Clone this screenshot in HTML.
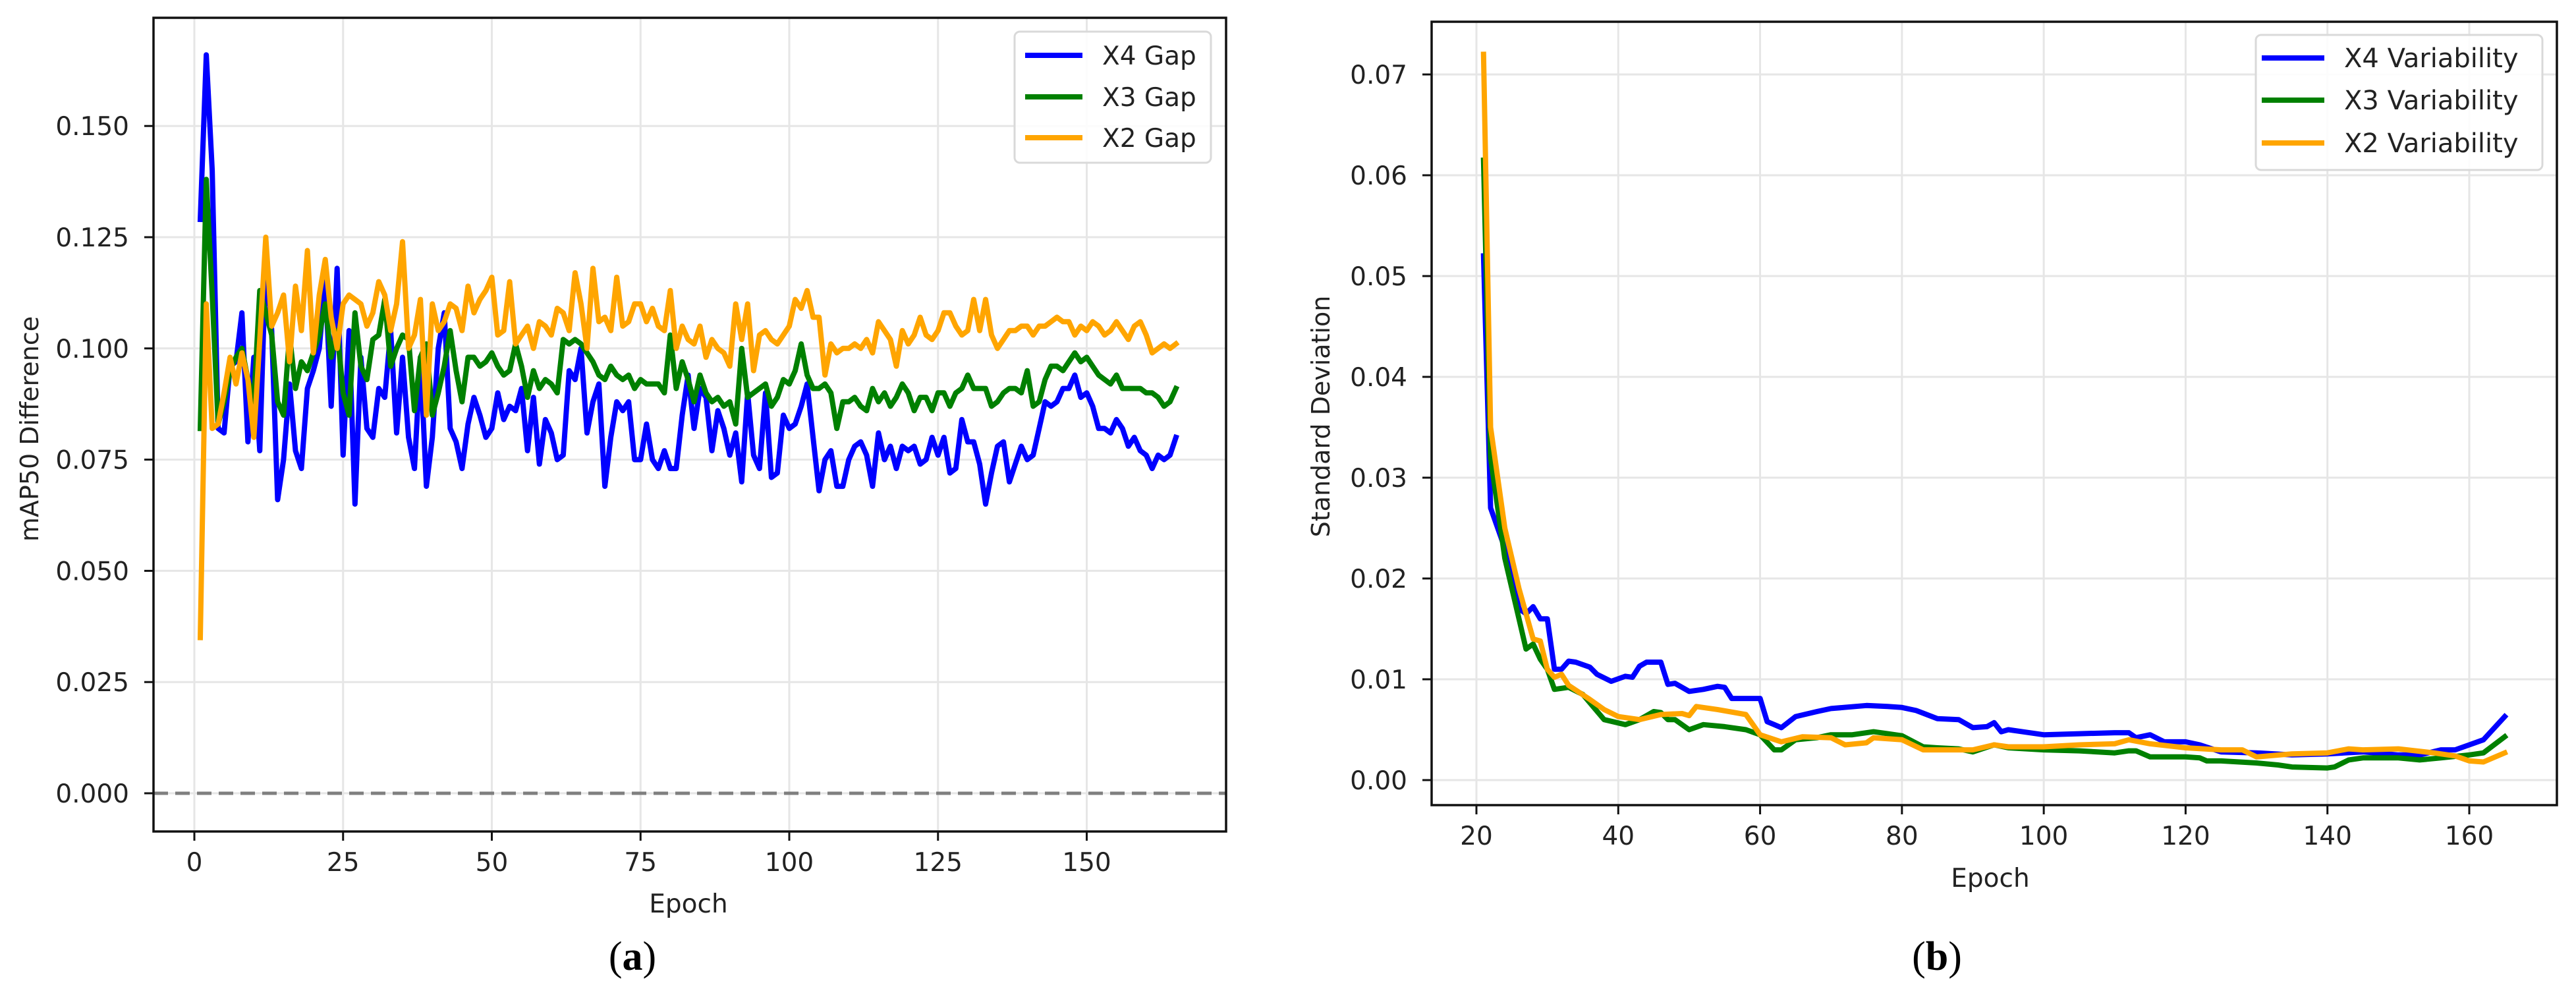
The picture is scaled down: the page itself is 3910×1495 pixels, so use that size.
<!DOCTYPE html>
<html><head><meta charset="utf-8"><style>
html,body{margin:0;padding:0;background:#fff;}
svg{display:block;font-family:"DejaVu Sans","Liberation Sans",sans-serif;}
</style></head><body>
<svg id="fig" width="3910" height="1495" viewBox="0 0 3910 1495" xmlns="http://www.w3.org/2000/svg"></svg>
<script>
// ---- Chart (a) data ----
const gapEpochs = Array.from({length:165},(_, i)=>i+1);
const x4Gap = [.129,.166,.140,.082,.081,.096,.097,.108,.079,.098,
.077,.120,.104,.066,.075,.092,.077,.073,.091,.095,
.100,.115,.087,.118,.076,.104,.065,.098,.082,.080,
.091,.089,.104,.081,.098,.080,.073,.098,.069,.080,
.100,.108,.082,.079,.073,.083,.089,.085,.080,.082,
.090,.084,.087,.086,.091,.077,.089,.074,.084,.081,
.075,.076,.095,.093,.100,.081,.088,.092,.069,.080,
.088,.086,.088,.075,.075,.083,.075,.073,.077,.073,
.073,.085,.094,.082,.091,.089,.077,.086,.082,.076,
.081,.070,.090,.076,.073,.090,.071,.072,.085,.082,
.083,.087,.092,.080,.068,.075,.077,.069,.069,.075,
.078,.079,.076,.069,.081,.075,.078,.073,.078,.077,
.078,.074,.075,.080,.076,.080,.072,.073,.084,.079,
.079,.074,.065,.072,.078,.079,.070,.074,.078,.075,
.076,.082,.088,.087,.088,.091,.091,.094,.089,.090,
.087,.082,.082,.081,.084,.082,.078,.080,.077,.076,
.073,.076,.075,.076,.080];
const x3Gap = [.082,.138,.112,.083,.088,.095,.098,.100,.093,.088,
.113,.108,.103,.088,.085,.103,.091,.097,.095,.099,
.103,.110,.098,.104,.090,.085,.108,.096,.093,.102,
.103,.111,.096,.100,.103,.102,.086,.098,.101,.085,
.090,.096,.104,.095,.088,.098,.098,.096,.097,.099,
.096,.094,.095,.101,.096,.089,.095,.091,.093,.092,
.090,.102,.101,.102,.101,.099,.097,.094,.093,.096,
.094,.093,.094,.091,.093,.092,.092,.092,.090,.103,
.091,.097,.093,.088,.094,.090,.088,.089,.087,.088,
.083,.100,.089,.090,.091,.092,.087,.089,.093,.092,
.095,.101,.094,.091,.091,.092,.090,.082,.088,.088,
.089,.087,.086,.091,.088,.090,.087,.089,.092,.090,
.086,.089,.089,.086,.090,.090,.087,.090,.091,.094,
.091,.091,.091,.087,.088,.090,.091,.091,.090,.095,
.087,.088,.093,.096,.096,.095,.097,.099,.097,.098,
.096,.094,.093,.092,.094,.091,.091,.091,.091,.090,
.090,.089,.087,.088,.091];
const x2Gap = [.035,.110,.082,.083,.090,.098,.092,.099,.093,.080,
.102,.125,.105,.108,.112,.097,.114,.104,.122,.099,
.112,.120,.107,.100,.110,.112,.111,.110,.105,.108,
.115,.112,.104,.110,.124,.100,.103,.111,.085,.110,
.104,.106,.110,.109,.104,.114,.108,.111,.113,.116,
.103,.104,.115,.101,.103,.105,.100,.106,.105,.103,
.109,.108,.104,.117,.110,.100,.118,.106,.107,.104,
.116,.105,.106,.110,.110,.106,.109,.105,.104,.113,
.100,.105,.102,.101,.105,.098,.102,.100,.099,.096,
.110,.102,.110,.095,.103,.104,.102,.101,.103,.105,
.111,.109,.113,.107,.107,.094,.101,.099,.100,.100,
.101,.100,.102,.099,.106,.104,.102,.096,.104,.101,
.103,.107,.103,.102,.104,.108,.108,.105,.103,.104,
.111,.104,.111,.103,.100,.102,.104,.104,.105,.105,
.103,.105,.105,.106,.107,.106,.106,.103,.105,.104,
.106,.105,.103,.104,.106,.104,.102,.105,.106,.103,
.099,.100,.101,.100,.101];
const aXTicks = [0,25,50,75,100,125,150];
const aYTicks = [0,0.025,0.05,0.075,0.1,0.125,0.15];
const aYLabels = ["0.000","0.025","0.050","0.075","0.100","0.125","0.150"];

// ---- Chart (b) data ----
const x4VarEpochs = [21,22,24,26,27,28,29,30,31,32,33,34,36,37,39,41,42,43,44,46,47,48,50,52,54,55,56,60,61,62,63,65,68,70,75,78,80,82,85,88,90,92,93,94,95,97,100,105,110,112,113,115,117,120,122,125,130,135,140,145,150,153,156,158,160,162,165];
const x4Var = [.052,.027,.023,.017,.0165,.0172,.016,.016,.011,.011,.0118,.0117,.0112,.0105,.0098,.0103,.0102,.0113,.0117,.0117,.0095,.0096,.0088,.009,.0093,.0092,.0081,.0081,.0058,.0055,.0052,.0063,.0068,.0071,.0074,.0073,.0072,.0069,.0061,.006,.0052,.0053,.0057,.0048,.005,.0048,.0045,.0046,.0047,.0047,.0042,.0045,.0038,.0038,.0035,.0028,.0027,.0025,.0026,.0028,.0025,.0025,.003,.003,.0035,.004,.0063];
const x3VarEpochs = [21,22,24,26,27,28,29,30,31,33,35,38,41,43,45,46,47,48,50,52,55,58,60,62,63,65,68,70,73,76,78,80,83,85,88,90,93,95,100,105,110,112,113,115,120,122,123,125,130,133,135,140,141,143,145,150,153,156,160,162,165];
const x3Var = [.0615,.032,.022,.016,.013,.0135,.012,.011,.009,.0092,.0085,.006,.0055,.006,.0068,.0067,.006,.006,.005,.0055,.0053,.005,.0045,.003,.003,.004,.0042,.0045,.0045,.0048,.0046,.0044,.0033,.0032,.0031,.0028,.0035,.0032,.003,.0029,.0027,.0029,.0029,.0023,.0023,.0022,.0019,.0019,.0017,.0015,.0013,.0012,.0013,.002,.0022,.0022,.002,.0022,.0025,.0027,.0043];
const x2VarEpochs = [21,22,24,26,28,29,30,31,32,33,36,38,40,43,46,49,50,51,54,58,60,63,66,70,72,75,76,80,83,85,90,93,95,100,105,110,112,115,120,125,128,130,135,140,143,145,150,155,158,160,162,165];
const x2Var = [.072,.035,.025,.019,.014,.0138,.011,.0102,.0105,.0094,.008,.007,.0063,.006,.0065,.0066,.0064,.0073,.007,.0065,.0045,.0038,.0043,.0042,.0035,.0037,.0042,.004,.003,.003,.003,.0035,.0033,.0033,.0035,.0036,.004,.0036,.0032,.003,.003,.0023,.0026,.0027,.0031,.003,.0031,.0027,.0024,.0019,.0018,.0027];
const bXTicks = [20,40,60,80,100,120,140,160];
const bYTicks = [0,0.01,0.02,0.03,0.04,0.05,0.06,0.07];
const bYLabels = ["0.00","0.01","0.02","0.03","0.04","0.05","0.06","0.07"];

const NS = "http://www.w3.org/2000/svg";
const svg = document.getElementById('fig');
function mk(tag, attrs, parent){
  const e = document.createElementNS(NS, tag);
  for (const k in attrs) e.setAttribute(k, attrs[k]);
  (parent||svg).appendChild(e);
  return e;
}

function drawChart(cfg){
  const g = mk('g', {});
  
  
  const X = v => cfg.x0 + (v - cfg.xv0) * cfg.xs;
  const Y = v => cfg.y0 - v * cfg.ys;
  cfg.xTicks.forEach(t=>{
    const l = mk('line',{x1:X(t),x2:X(t),y1:cfg.top,y2:cfg.bottom,stroke:'#e6e6e6','stroke-width':3},g);
    
    
  });
  cfg.yTicks.forEach(t=>{
    const l = mk('line',{x1:cfg.left,x2:cfg.right,y1:Y(t),y2:Y(t),stroke:'#e6e6e6','stroke-width':3},g);
    
    
  });
  if (cfg.zeroLine){
    const z = mk('line',{x1:cfg.left,x2:cfg.right,y1:Y(0),y2:Y(0),stroke:'#7f7f7f','stroke-width':5,'stroke-dasharray':'22 11'},g);
    
    
  }
  cfg.series.forEach(s=>{
    const pts = s.xs.map((x,i)=>X(x).toFixed(1)+','+Y(s.ys[i]).toFixed(1)).join(' ');
    const p = mk('polyline',{points:pts,fill:'none',stroke:s.color,'stroke-width':cfg.lw,'stroke-linejoin':'round','stroke-linecap':'square'},g);
    
    
  });
  const f = mk('rect',{x:cfg.left,y:cfg.top,width:cfg.right-cfg.left,height:cfg.bottom-cfg.top,fill:'none',stroke:'#111','stroke-width':3.5},g);
  
  
  cfg.xTicks.forEach(t=>{
    const l = mk('line',{x1:X(t),x2:X(t),y1:cfg.bottom,y2:cfg.bottom+14,stroke:'#111','stroke-width':3},g);
    
    
    const tx = mk('text',{x:X(t),y:cfg.bottom+60,'font-size':39,'text-anchor':'middle',fill:'#222'},g);
    tx.textContent = t;
    
    
  });
  cfg.yTicks.forEach((t,i)=>{
    const l = mk('line',{x1:cfg.left-14,x2:cfg.left,y1:Y(t),y2:Y(t),stroke:'#111','stroke-width':3},g);
    
    
    const tx = mk('text',{x:cfg.left-37,y:Y(t)+14,'font-size':39,'text-anchor':'end',fill:'#222'},g);
    tx.textContent = cfg.yLabels[i];
    
    
  });
  const xt = mk('text',{x:cfg.xTitleX,y:cfg.xTitleY,'font-size':39,'text-anchor':'middle',fill:'#222'},g);
  xt.textContent = 'Epoch';
  
  
  const yt = mk('text',{x:0,y:0,'font-size':38,'text-anchor':'middle',fill:'#222',transform:`translate(${cfg.yTitleX},${cfg.yTitleY}) rotate(-90)`},g);
  yt.textContent = cfg.yTitle;
  
  
  const L = cfg.legend;
  const lg = mk('g',{},g);
  
  
  mk('rect',{x:L.x,y:L.y,width:L.w,height:L.h,rx:8,fill:'#fff','fill-opacity':0.85,stroke:'#d9d9d9','stroke-width':3},lg);
  cfg.series.forEach((s,i)=>{
    const ry = L.rows[i];
    const e = mk('g',{},lg);
    
    
    mk('line',{x1:L.lx1,x2:L.lx2,y1:ry,y2:ry,stroke:s.color,'stroke-width':cfg.lw},e);
    const t = mk('text',{x:L.tx,y:ry+14,'font-size':L.fs,fill:'#222'},e);
    t.textContent = s.label;
  });
  const cap = mk('text',{x:cfg.capX,y:1472,'font-size':62,'text-anchor':'middle',fill:'#000','font-family':'"Liberation Serif",serif'});
  cap.innerHTML = '(<tspan font-weight="bold">'+cfg.cap+'</tspan>)';
  
  
}

drawChart({
  name:'chart-a-map50-gap', left:233, right:1861, top:27, bottom:1262,
  x0:295, xv0:0, xs:(1649.5-295)/150, y0:1204, ys:168.8/0.025,
  xTicks:aXTicks, yTicks:aYTicks, yLabels:aYLabels, zeroLine:true, lw:8,
  xTitleX:1045, xTitleY:1385, yTitle:'mAP50 Difference', yTitleX:58, yTitleY:651,
  series:[
    {name:'x4-gap-line', label:'X4 Gap', color:'#0000ff', xs:gapEpochs, ys:x4Gap},
    {name:'x3-gap-line', label:'X3 Gap', color:'#008000', xs:gapEpochs, ys:x3Gap},
    {name:'x2-gap-line', label:'X2 Gap', color:'#ffa500', xs:gapEpochs, ys:x2Gap}
  ],
  legend:{x:1540,y:48,w:298,h:199,lx1:1556,lx2:1643,tx:1673,rows:[84,147,209],fs:39},
  capX:960, cap:'a'
});
drawChart({
  name:'chart-b-std-deviation', left:2173, right:3881, top:33, bottom:1222,
  x0:2241, xv0:20, xs:(3748-2241)/140, y0:1184, ys:153/0.01,
  xTicks:bXTicks, yTicks:bYTicks, yLabels:bYLabels, zeroLine:false, lw:8,
  xTitleX:3021, xTitleY:1346, yTitle:'Standard Deviation', yTitleX:2018, yTitleY:632,
  series:[
    {name:'x4-variability-line', label:'X4 Variability', color:'#0000ff', xs:x4VarEpochs, ys:x4Var},
    {name:'x3-variability-line', label:'X3 Variability', color:'#008000', xs:x3VarEpochs, ys:x3Var},
    {name:'x2-variability-line', label:'X2 Variability', color:'#ffa500', xs:x2VarEpochs, ys:x2Var}
  ],
  legend:{x:3424,y:53,w:435,h:205,lx1:3433,lx2:3528,tx:3558,rows:[88,152,217],fs:40},
  capX:2940, cap:'b'
});
</script>
</body></html>
